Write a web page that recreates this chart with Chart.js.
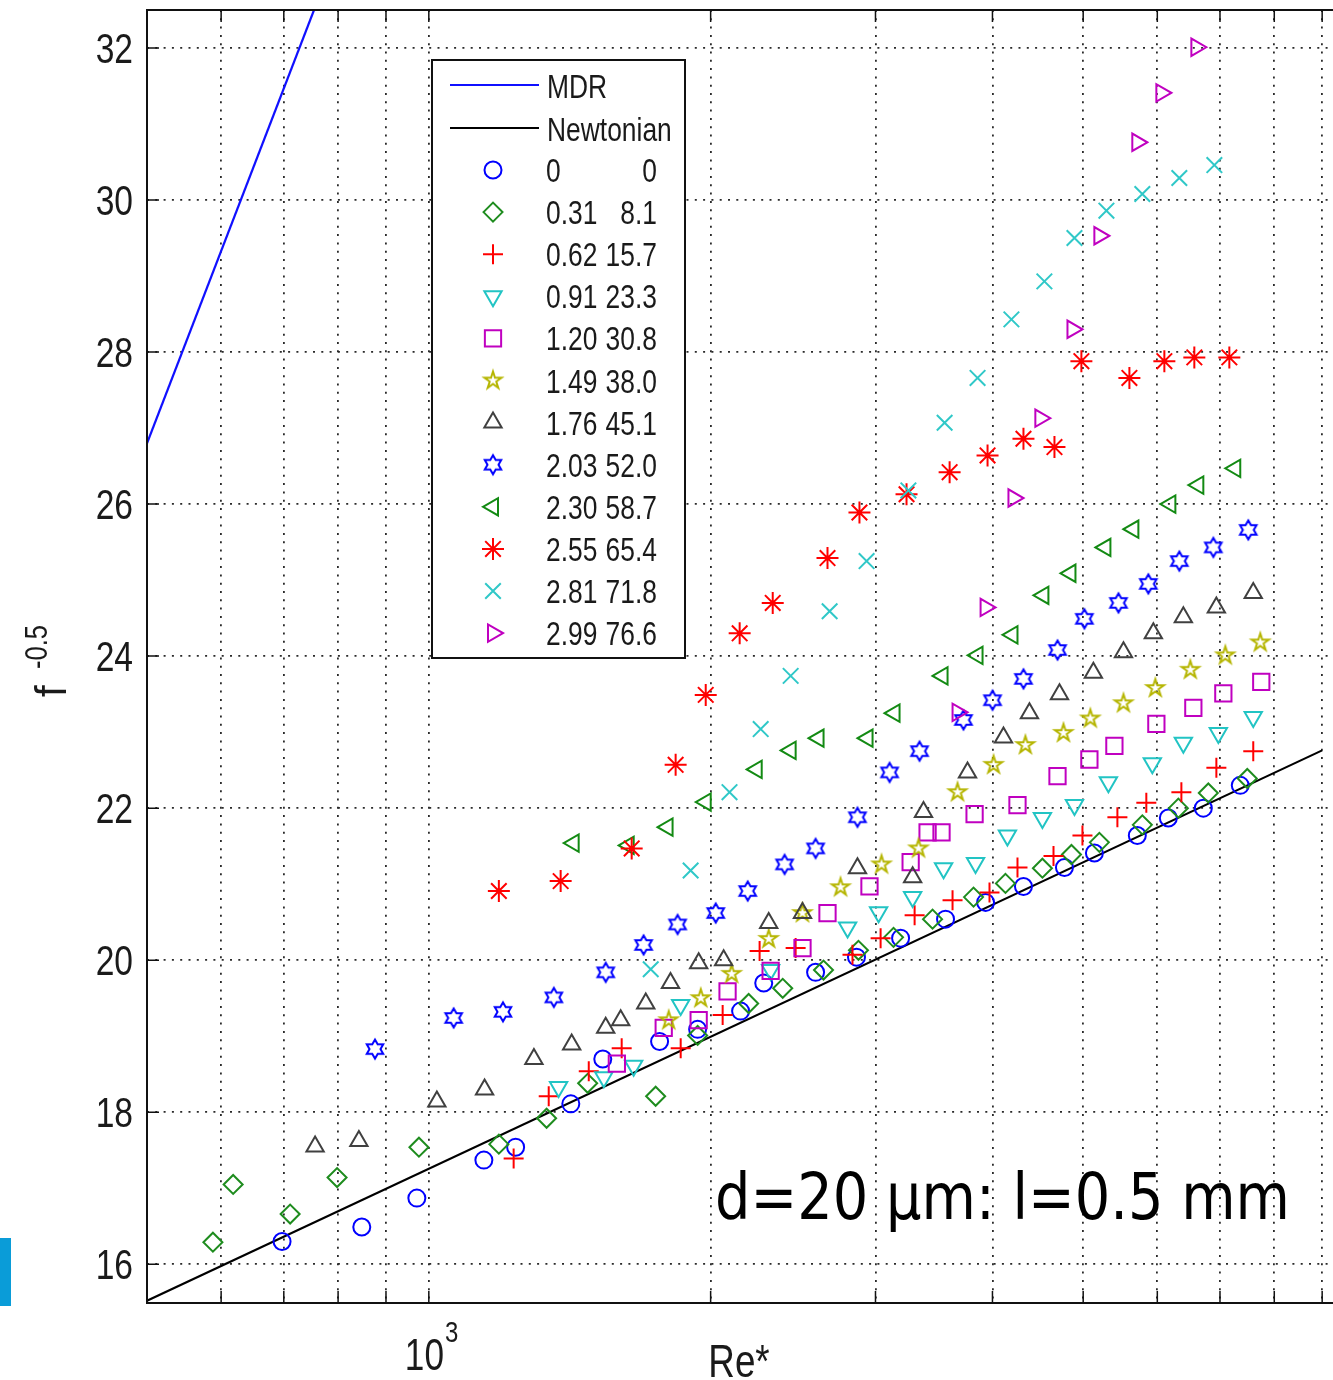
<!DOCTYPE html>
<html>
<head>
<meta charset="utf-8">
<title>Re* vs f^-0.5</title>
<script src="https://cdn.jsdelivr.net/npm/chart.js@4.4.1/dist/chart.umd.min.js"></script>
<style>
  html, body { margin: 0; padding: 0; background: #fff; overflow: hidden; }
  #wrap { position: relative; width: 1370px; height: 1380px; }
  #tab { position: absolute; left: 0; top: 1238px; width: 11px; height: 68px; background: #0a9cd8; }
</style>
</head>
<body>
<div id="wrap">
  <canvas id="plot" width="1370" height="1380"></canvas>
  <div id="tab"></div>
</div>
<script>
// reference curves (end points; straight in semi-log)
const reMDR = [500, 754]
const fMDR = [26.80, 32.50]
const reNewt = [500, 9000]
const fNewt = [15.52, 22.76]

// measured series, one pair of arrays per legend row
const re_0 = [697, 848, 971, 1145, 1238, 1418, 1534, 1764, 1937, 2153, 2279, 2589, 2863, 3191, 3564, 3933, 4317, 4775, 5140, 5712, 6165, 6719, 7358]
const f_0 = [16.30, 16.49, 16.87, 17.37, 17.54, 18.11, 18.70, 18.93, 19.09, 19.33, 19.70, 19.84, 20.04, 20.29, 20.54, 20.76, 20.97, 21.22, 21.41, 21.64, 21.87, 22.00, 22.30]

const re_031 = [588, 618, 711, 798, 976, 1188, 1336, 1478, 1747, 1937, 2196, 2388, 2640, 2877, 3136, 3452, 3818, 4130, 4523, 4858, 5203, 5783, 6319, 6802, 7486]
const f_031 = [16.29, 17.05, 16.66, 17.14, 17.54, 17.58, 17.92, 18.38, 18.21, 19.01, 19.43, 19.63, 19.87, 20.13, 20.30, 20.54, 20.83, 21.01, 21.21, 21.39, 21.55, 21.78, 22.00, 22.20, 22.39]

const re_062 = [1232, 1343, 1482, 1607, 1858, 2060, 2256, 2465, 2835, 3038, 3303, 3626, 3971, 4254, 4648, 4991, 5439, 5840, 6366, 6938, 7597]
const f_062 = [17.39, 18.21, 18.54, 18.84, 18.84, 19.28, 20.12, 20.16, 20.07, 20.29, 20.59, 20.79, 20.89, 21.22, 21.37, 21.64, 21.88, 22.07, 22.21, 22.53, 22.75]

const re_091 = [1376, 1538, 1655, 1858, 2318, 2801, 3023, 3287, 3547, 3837, 4150, 4523, 4894, 5320, 5927, 6397, 6972, 7597]
const f_091 = [18.33, 18.46, 18.61, 19.41, 19.87, 20.43, 20.63, 20.83, 21.21, 21.28, 21.64, 21.87, 22.04, 22.34, 22.59, 22.86, 22.99, 23.20]

const re_120 = [1588, 1782, 1942, 2085, 2318, 2507, 2666, 2956, 3271, 3410, 3529, 3828, 4254, 4694, 5077, 5399, 5986, 6556, 7058, 7748]
const f_120 = [18.64, 19.11, 19.21, 19.59, 19.86, 20.16, 20.62, 20.97, 21.29, 21.68, 21.68, 21.92, 22.04, 22.42, 22.64, 22.82, 23.11, 23.32, 23.51, 23.66]

const re_149 = [1804, 1952, 2106, 2307, 2507, 2753, 3045, 3335, 3671, 4011, 4338, 4763, 5089, 5521, 5971, 6508, 7093, 7729]
const f_149 = [19.21, 19.50, 19.82, 20.28, 20.62, 20.96, 21.26, 21.47, 22.21, 22.57, 22.83, 22.99, 23.18, 23.38, 23.58, 23.82, 24.01, 24.18]

const re_176 = [756, 842, 1020, 1147, 1295, 1421, 1545, 1603, 1705, 1812, 1942, 2065, 2307, 2507, 2870, 3287, 3376, 3762, 4110, 4381, 4717, 5127, 5521, 5942, 6397, 6938, 7597]
const f_176 = [17.55, 17.62, 18.14, 18.30, 18.70, 18.89, 19.11, 19.21, 19.43, 19.70, 19.96, 20.00, 20.49, 20.62, 21.21, 21.09, 21.95, 22.47, 22.93, 23.25, 23.50, 23.78, 24.05, 24.30, 24.51, 24.64, 24.83]

const re_203 = [876, 1063, 1200, 1360, 1545, 1696, 1844, 2025, 2191, 2399, 2589, 2870, 3106, 3343, 3725, 4001, 4317, 4694, 5015, 5453, 5869, 6334, 6887, 7504]
const f_203 = [18.83, 19.24, 19.32, 19.51, 19.84, 20.20, 20.47, 20.62, 20.91, 21.26, 21.47, 21.88, 22.47, 22.75, 23.16, 23.42, 23.70, 24.08, 24.49, 24.70, 24.95, 25.25, 25.43, 25.66]

const re_230 = [1428, 1635, 1799, 1976, 2240, 2435, 2608, 2942, 3144, 3538, 3856, 4202, 4534, 4846, 5281, 5657, 6196, 6637, 7268]
const f_230 = [21.54, 21.51, 21.75, 22.08, 22.51, 22.76, 22.92, 22.92, 23.25, 23.74, 24.01, 24.28, 24.80, 25.09, 25.43, 25.67, 26.00, 26.25, 26.47]

const re_255 = [1188, 1383, 1647, 1835, 1976, 2148, 2330, 2666, 2884, 3238, 3600, 3952, 4317, 4659, 4978, 5602, 6105, 6572, 7163]
const f_255 = [20.91, 21.04, 21.47, 22.57, 23.49, 24.30, 24.70, 25.29, 25.89, 26.13, 26.42, 26.64, 26.86, 26.75, 27.88, 27.66, 27.88, 27.93, 27.93]

const re_281 = [1726, 1904, 2095, 2262, 2435, 2680, 2935, 3253, 3556, 3856, 4191, 4545, 4894, 5294, 5783, 6334, 6904]
const f_281 = [19.88, 21.18, 22.21, 23.04, 23.74, 24.59, 25.25, 26.18, 27.07, 27.66, 28.43, 28.93, 29.50, 29.86, 30.08, 30.29, 30.46]

const re_299 = [3671, 3933, 4212, 4500, 4870, 5203, 5712, 6060, 6605]
const f_299 = [23.26, 24.64, 26.08, 27.13, 28.30, 29.53, 30.76, 31.41, 32.01]

// legend columns
const legendA = ['0', '0.31', '0.62', '0.91', '1.20', '1.49', '1.76', '2.03', '2.30', '2.55', '2.81', '2.99']
const legendB = ['0', '8.1', '15.7', '23.3', '30.8', '38.0', '45.1', '52.0', '58.7', '65.4', '71.8', '76.6']

// axis ticks
const xGrid = [600, 700, 800, 900, 1000, 2000, 3000, 4000, 5000, 6000, 7000, 8000, 9000]
const yTicks = [16, 18, 20, 22, 24, 26, 28, 30, 32]

const FONT = "'Liberation Sans', Arial, sans-serif"
const NARROW = 0.8
// plot box inside the canvas (right edge runs past the visible page)
const BOX = { left: 147, right: 1365, top: 10, bottom: 1303 }

// outlined star marker drawn once onto a small canvas
function starMarker(points, inner, r, color) {
    const c = document.createElement('canvas')
    c.width = 26
    c.height = 26
    const g = c.getContext('2d')
    g.strokeStyle = color
    g.lineWidth = 2
    g.beginPath()
    for (let i = 0; i < points * 2; i++) {
        const a = -Math.PI / 2 + i * Math.PI / points
        const rr = i % 2 === 0 ? r : r * inner
        const px = 13 + Math.cos(a) * rr
        const py = 13 + Math.sin(a) * rr
        if (i === 0) g.moveTo(px, py)
        else g.lineTo(px, py)
    }
    g.closePath()
    g.stroke()
    return c
}

const seriesRe = [re_0, re_031, re_062, re_091, re_120, re_149, re_176, re_203, re_230, re_255, re_281, re_299]
const seriesF = [f_0, f_031, f_062, f_091, f_120, f_149, f_176, f_203, f_230, f_255, f_281, f_299]

const markers = [
    { pointStyle: 'circle', color: '#0000ff', radius: 8.5 },
    { pointStyle: 'rectRot', color: '#1e8c1e', radius: 9.5 },
    { pointStyle: 'cross', color: '#ff0000', radius: 10 },
    { pointStyle: 'triangle', rotation: 180, color: '#22c4c4', radius: 10 },
    { pointStyle: 'rect', color: '#c000c0', radius: 11.5 },
    { pointStyle: starMarker(5, 0.38, 9, '#b5b500'), color: '#b5b500', radius: 9 },
    { pointStyle: 'triangle', color: '#404040', radius: 10 },
    { pointStyle: starMarker(6, 0.577, 9.5, '#0000ff'), color: '#0000ff', radius: 9 },
    { pointStyle: 'triangle', rotation: -90, color: '#138a13', radius: 10 },
    { pointStyle: 'star', color: '#ff0000', radius: 11 },
    { pointStyle: 'crossRot', color: '#30c8c8', radius: 11 },
    { pointStyle: 'triangle', rotation: 90, color: '#c000c0', radius: 10 },
]

const datasets = [
    {
        label: 'MDR',
        data: reMDR.map((v, i) => ({ x: v, y: fMDR[i] })),
        showLine: true, borderColor: '#1010ff', borderWidth: 2.2, pointRadius: 0, order: 100
    },
    {
        label: 'Newtonian',
        data: reNewt.map((v, i) => ({ x: v, y: fNewt[i] })),
        showLine: true, borderColor: '#000', borderWidth: 2.2, pointRadius: 0, order: 99
    }
]

markers.forEach((m, k) => {
    datasets.push({
        label: legendA[k] + ' ' + legendB[k],
        data: seriesRe[k].map((v, i) => ({ x: v, y: seriesF[k][i] })),
        showLine: false,
        pointStyle: m.pointStyle,
        pointRotation: m.rotation || 0,
        pointRadius: m.radius,
        pointBorderColor: m.color,
        pointBackgroundColor: 'rgba(0,0,0,0)',
        pointBorderWidth: 2,
        order: 50 - k
    })
})

// text squeezed sideways, like the narrow plot font
function narrowText(ctx, text, x, y, size, align, squeeze) {
    const sq = squeeze || NARROW
    ctx.save()
    ctx.font = size + 'px ' + FONT
    ctx.textBaseline = 'alphabetic'
    const w = ctx.measureText(text).width * sq
    let left = x
    if (align === 'right') left = x - w
    else if (align === 'center') left = x - w / 2
    ctx.translate(left, y)
    ctx.scale(sq, 1)
    ctx.textAlign = 'left'
    ctx.fillText(text, 0, 0)
    ctx.restore()
    return w
}

const decor = {
    id: 'decor',
    afterDraw(chart) {
        const { ctx, chartArea: a, scales: { x, y } } = chart
        ctx.save()

        // axes box with inward ticks
        ctx.strokeStyle = '#111'
        ctx.lineWidth = 2
        ctx.strokeRect(a.left, a.top, a.right - a.left, a.bottom - a.top)
        ctx.lineWidth = 1.5
        ctx.beginPath()
        xGrid.forEach(v => {
            const px = x.getPixelForValue(v)
            ctx.moveTo(px, a.bottom); ctx.lineTo(px, a.bottom - 12)
            ctx.moveTo(px, a.top); ctx.lineTo(px, a.top + 12)
        })
        yTicks.forEach(v => {
            const py = y.getPixelForValue(v)
            ctx.moveTo(a.left, py); ctx.lineTo(a.left + 12, py)
            ctx.moveTo(a.right, py); ctx.lineTo(a.right - 12, py)
        })
        ctx.stroke()

        // tick labels
        ctx.fillStyle = '#1a1a1a'
        yTicks.forEach(v => {
            narrowText(ctx, String(v), a.left - 14, y.getPixelForValue(v) + 15, 42, 'right')
        })
        const p3 = x.getPixelForValue(1000)
        const w10 = narrowText(ctx, '10', p3 - 24, 1370, 44, 'left')
        narrowText(ctx, '3', p3 - 24 + w10 + 1, 1342, 30, 'left')

        // axis titles
        narrowText(ctx, 'Re*', 739, 1377, 46, 'center')
        ctx.save()
        ctx.translate(66, 697)
        ctx.rotate(-Math.PI / 2)
        narrowText(ctx, 'f', 0, 0, 44, 'left', 0.95)
        narrowText(ctx, '-0.5', 28, -19, 32, 'left')
        ctx.restore()

        // legend box
        const bx = 432, by = 60, bw = 253, bh = 598
        ctx.fillStyle = '#fff'
        ctx.fillRect(bx, by, bw, bh)
        ctx.strokeStyle = '#111'
        ctx.lineWidth = 2
        ctx.strokeRect(bx, by, bw, bh)
        ctx.fillStyle = '#1a1a1a'
        const lineRows = [[datasets[0], 85], [datasets[1], 128]]
        lineRows.forEach(([ds, ry]) => {
            ctx.strokeStyle = ds.borderColor
            ctx.lineWidth = 2.2
            ctx.beginPath()
            ctx.moveTo(450, ry); ctx.lineTo(539, ry)
            ctx.stroke()
            narrowText(ctx, ds.label, 547, ry + 13, 33, 'left')
        })
        markers.forEach((m, k) => {
            const ry = 170 + k * 42.1
            ctx.strokeStyle = m.color
            ctx.fillStyle = 'rgba(0,0,0,0)'
            ctx.lineWidth = 2
            Chart.helpers.drawPoint(ctx, { pointStyle: m.pointStyle, rotation: m.rotation || 0, radius: m.radius, borderWidth: 2 }, 493, ry)
            ctx.fillStyle = '#1a1a1a'
            narrowText(ctx, legendA[k], 546, ry + 12, 33, 'left')
            narrowText(ctx, legendB[k], 657, ry + 12, 33, 'right')
        })

        // sample note
        ctx.fillStyle = '#000'
        ctx.font = "64px 'DejaVu Sans', sans-serif"
        const note = 'd=20 \u03bcm: l=0.5 mm'
        const nw = ctx.measureText(note).width
        ctx.translate(715, 1219)
        ctx.scale(575 / nw, 1)
        ctx.textAlign = 'left'
        ctx.fillText(note, 0, 0)

        ctx.restore()
    }
}

new Chart(document.getElementById('plot'), {
    type: 'scatter',
    data: { datasets: datasets },
    options: {
        responsive: false,
        animation: false,
        devicePixelRatio: 1,
        events: [],
        layout: { autoPadding: false, padding: { top: BOX.top, right: 1370 - BOX.right, left: 0, bottom: 0 } },
        plugins: { legend: { display: false }, tooltip: { enabled: false } },
        scales: {
            x: {
                type: 'logarithmic',
                min: 500,
                max: 10000,
                afterBuildTicks: scale => { scale.ticks = xGrid.map(v => ({ value: v })) },
                afterFit: scale => { scale.height = 1380 - BOX.bottom },
                ticks: { display: false },
                grid: { color: '#2a2a2a', lineWidth: 1.8, drawTicks: false },
                border: { display: false, dash: [2, 6.3] }
            },
            y: {
                min: 15.49,
                max: 32.5,
                afterBuildTicks: scale => { scale.ticks = yTicks.map(v => ({ value: v })) },
                afterFit: scale => { scale.width = BOX.left },
                ticks: { display: false },
                grid: { color: '#2a2a2a', lineWidth: 1.8, drawTicks: false },
                border: { display: false, dash: [2, 6.3] }
            }
        }
    },
    plugins: [decor]
})
</script>
</body>
</html>
